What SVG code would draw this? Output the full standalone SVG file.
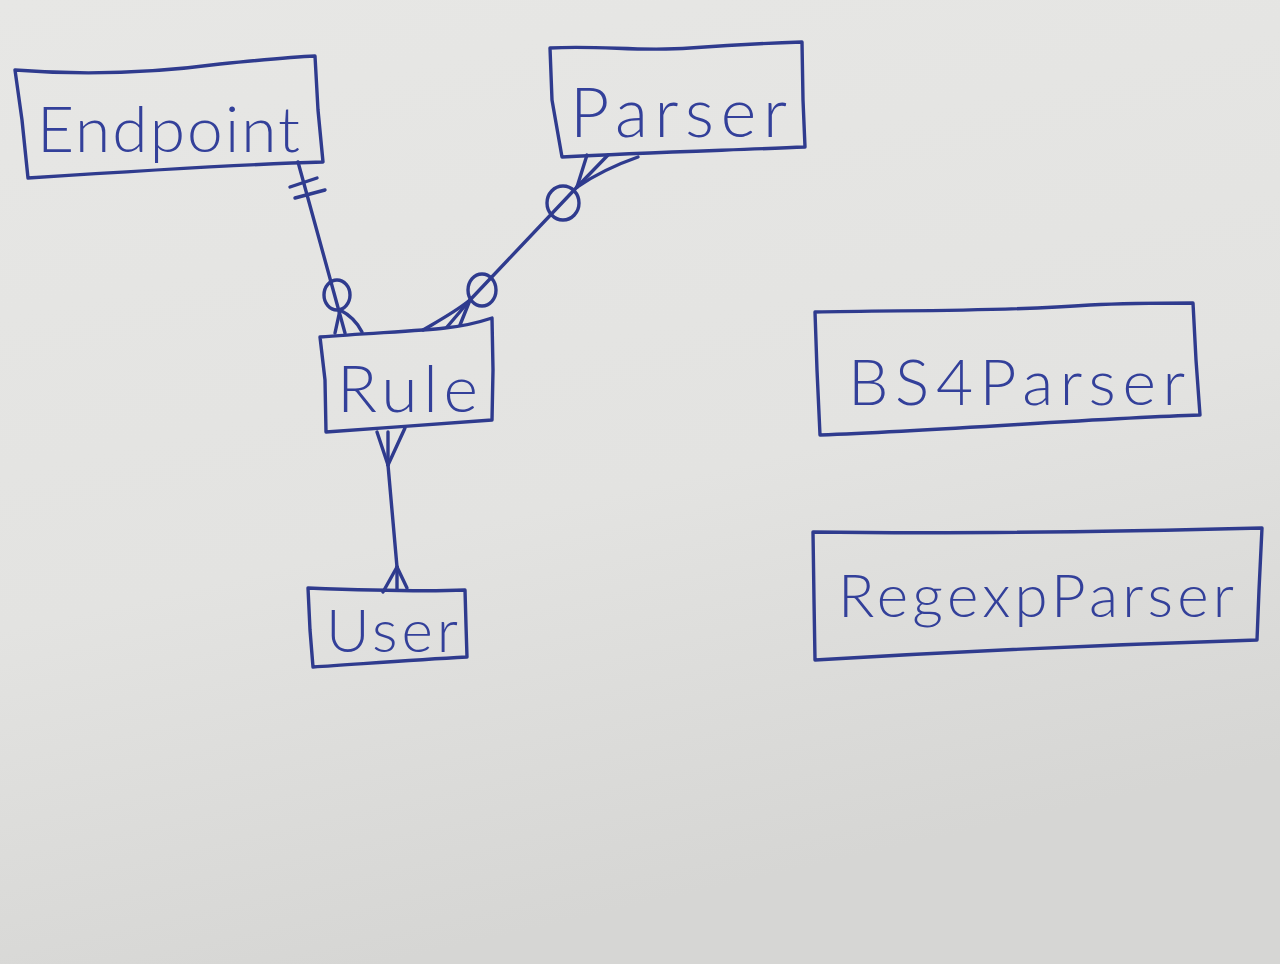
<svg xmlns="http://www.w3.org/2000/svg" width="1280" height="964" viewBox="0 0 1280 964">
<defs>
<linearGradient id="bg" x1="0" y1="0" x2="0.3" y2="1">
<stop offset="0" stop-color="#e7e7e5"/>
<stop offset="0.6" stop-color="#e3e3e1"/>
<stop offset="1" stop-color="#d6d6d4"/>
</linearGradient>
</defs>
<style>
.ink{fill:none;stroke:#2f3b8e;stroke-width:3.4;stroke-linecap:round;stroke-linejoin:round}
.lbl{font-family:Lato,"Open Sans","Liberation Sans",sans-serif;fill:#33409a;font-weight:300}
</style>
<rect x="0" y="0" width="1280" height="964" fill="url(#bg)"/>

<g id="node-endpoint">
<path class="ink" d="M15,70 C90,76 160,72 220,64 C260,60 290,57 315,56 L318,110 L323,162 C250,164 150,170 28,178 L22,120 Z"/>
<text class="lbl" x="37" y="152" font-size="64" textLength="263" lengthAdjust="spacing">Endpoint</text>
</g>

<g id="node-parser">
<path class="ink" d="M550,48 C600,45 640,52 690,48 C730,45 770,43 802,42 L803,100 L805,147 C740,150 650,152 562,157 L552,100 Z"/>
<text class="lbl" x="570" y="137" font-size="68" textLength="217" lengthAdjust="spacing">Parser</text>
</g>

<g id="node-rule">
<path class="ink" d="M320,337 C370,333 420,331 445,328 C465,326 480,322 492,318 L493,370 L492,420 C440,424 380,428 326,432 L325,380 Z"/>
<text class="lbl" x="337" y="412" font-size="66" textLength="141" lengthAdjust="spacing">Rule</text>
</g>

<g id="node-user">
<path class="ink" d="M308,588 C360,590 420,592 465,590 L466,625 L467,657 C410,660 360,664 313,667 L310,630 Z"/>
<text class="lbl" x="326" y="652" font-size="60" textLength="132" lengthAdjust="spacing">User</text>
</g>

<g id="node-bs4parser">
<path class="ink" d="M815,312 C900,310 1000,312 1090,305 C1130,303 1170,303 1193,303 L1196,360 L1200,415 C1100,418 950,430 820,435 L817,370 Z"/>
<text class="lbl" x="848" y="405" font-size="64" textLength="337" lengthAdjust="spacing">BS4Parser</text>
</g>

<g id="node-regexpparser">
<path class="ink" d="M813,532 C950,534 1100,532 1262,528 L1259,590 L1257,640 C1100,645 950,652 815,660 L814,600 Z"/>
<text class="lbl" x="838" y="617" font-size="60" textLength="396" lengthAdjust="spacing">RegexpParser</text>
</g>

<g id="connectors">
<!-- Endpoint to Rule -->
<path class="ink" d="M298,162 L345,333"/>
<path class="ink" d="M290,187 L317,178"/>
<path class="ink" d="M295,198 L325,190"/>
<ellipse class="ink" cx="337" cy="295" rx="13" ry="15"/>
<path class="ink" d="M340,310 L335,333"/>
<path class="ink" d="M340,310 C352,316 358,324 362,332"/>
<!-- Parser to Rule -->
<path class="ink" d="M577,187 L470,300"/>
<path class="ink" d="M577,187 L587,155"/>
<path class="ink" d="M577,187 L608,155"/>
<path class="ink" d="M577,187 C595,175 615,165 638,157"/>
<ellipse class="ink" cx="563" cy="203" rx="16" ry="17"/>
<ellipse class="ink" cx="482" cy="290" rx="14" ry="16"/>
<path class="ink" d="M470,300 C455,312 440,320 423,330"/>
<path class="ink" d="M470,300 L447,327"/>
<path class="ink" d="M470,300 L460,325"/>
<!-- Rule to User -->
<path class="ink" d="M388,465 L397,567"/>
<path class="ink" d="M388,465 L377,432"/>
<path class="ink" d="M388,465 L388,432"/>
<path class="ink" d="M388,465 L405,428"/>
<path class="ink" d="M397,567 L383,592"/>
<path class="ink" d="M397,567 L397,590"/>
<path class="ink" d="M397,567 L407,588"/>
</g>
</svg>
